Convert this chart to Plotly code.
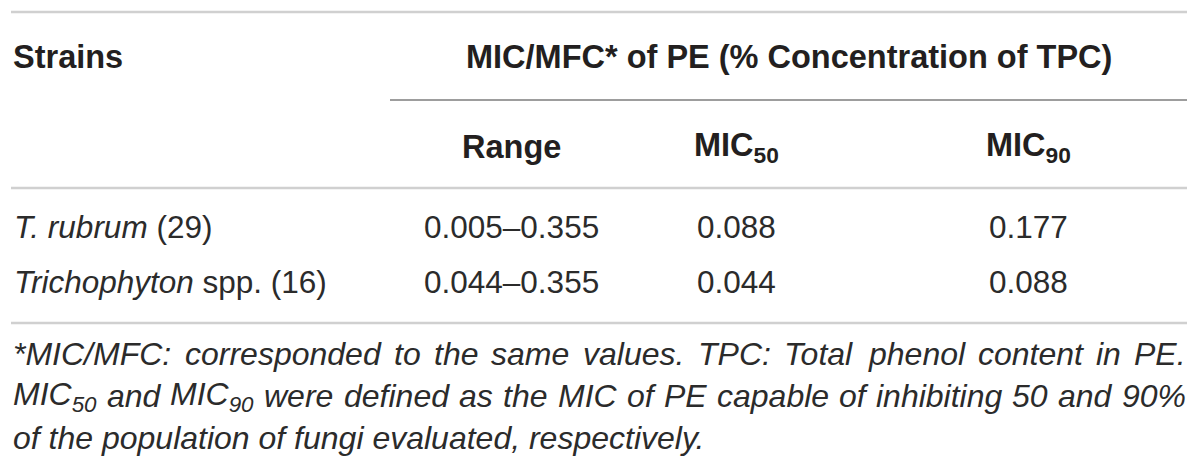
import plotly.graph_objects as go
import re

# ---------------- data ----------------
strain_names = ["<i>T. rubrum</i> (29)", "<i>Trichophyton</i> spp. (16)"]
range_values = ["0.005–0.355", "0.044–0.355"]
mic50_values = ["0.088", "0.044"]
mic90_values = ["0.177", "0.088"]

header_strains = "Strains"
header_group = "MIC/MFC* of PE (% Concentration of TPC)"
sub_headers = ["Range", "MIC<sub>50</sub>", "MIC<sub>90</sub>"]

footnote_lines = [
    "*MIC/MFC: corresponded to the same values. TPC: Total phenol content in PE.",
    "MIC<sub>50</sub> and MIC<sub>90</sub> were defined as the MIC of PE capable of inhibiting 50 and 90%",
    "of the population of fungi evaluated, respectively.",
]
footnote_justified = [True, True, False]

# ---------------- layout constants ----------------
W, H = 1200, 470
PAGE_MARGIN = 8  # default body margin of the html page
FONT = "Liberation Sans, Arial, sans-serif"
FS_HEAD = 32.5
FS_BODY = 31.5
FS_FOOT = 32
TXT_DARK = "#231f20"
TXT_BODY = "#2b2b2b"
LEFT, RIGHT = 11, 1187
TEXT_RIGHT = 1184
col_centers = [511, 736, 1028]
group_center = 789

y_top_rule = 12
y_head1 = 57
y_partial = 100
y_head2 = 147
y_head_rule = 188
y_rows = [227, 282]
y_bottom_rule = 323
y_foot = [354, 396, 438]

# Arial / Liberation Sans advance widths (per 1000 em)
AW = {' ': 278, '*': 389, '/': 278, ':': 278, '.': 278, ',': 278, '%': 889, '(': 333, ')': 333,
      '–': 556, '-': 333}
for d in "0123456789":
    AW[d] = 556
AW.update(dict(A=667, B=667, C=722, D=722, E=667, F=611, G=778, H=722, I=278, J=500, K=667,
               L=556, M=833, N=722, O=778, P=667, Q=778, R=722, S=667, T=611, U=722, V=667,
               W=944, X=667, Y=667, Z=611))
AW.update(dict(a=556, b=556, c=500, d=556, e=556, f=278, g=556, h=556, i=222, j=222, k=500,
               l=222, m=833, n=556, o=556, p=556, q=556, r=333, s=500, t=278, u=556, v=500,
               w=722, x=500, y=500, z=500))


def text_width(s, size):
    total = 0.0
    for p in re.split(r"(<sub>.*?</sub>)", s):
        inner = re.sub(r"<[^>]+>", "", p)
        w = sum(AW.get(ch, 556) for ch in inner)
        total += w * (0.7 if p.startswith("<sub>") else 1.0)
    return total * size / 1000.0


fig = go.Figure()
fig.add_trace(go.Scatter(x=[], y=[], mode="markers", showlegend=False, hoverinfo="skip"))


def add_text(x, y, text, xanchor="center", bold=False, italic=False, color=TXT_BODY, size=FS_BODY):
    t = text
    if bold:
        t = "<b>" + t + "</b>"
    if italic:
        t = "<i>" + t + "</i>"
    fig.add_annotation(x=x, y=y, xref="x", yref="y", text=t, showarrow=False,
                       xanchor=xanchor, yanchor="middle",
                       font=dict(family=FONT, size=size, color=color))


def add_rule(y, x0, x1, color, width):
    fig.add_shape(type="line", xref="x", yref="y", x0=x0, x1=x1, y0=y, y1=y,
                  line=dict(color=color, width=width))


# rules
add_rule(y_top_rule, LEFT, RIGHT, "#d0d0d0", 2.5)
add_rule(y_partial, 390, RIGHT, "#9d9d9d", 2)
add_rule(y_head_rule, LEFT, RIGHT, "#d0d0d0", 2.5)
add_rule(y_bottom_rule, LEFT, RIGHT, "#d0d0d0", 2.5)

# headers
add_text(LEFT, y_head1, header_strains, xanchor="left", bold=True, color=TXT_DARK, size=FS_HEAD)
add_text(group_center, y_head1, header_group, bold=True, color=TXT_DARK, size=FS_HEAD)
for cx, h in zip(col_centers, sub_headers):
    add_text(cx, y_head2, h, bold=True, color=TXT_DARK, size=FS_HEAD)

# body rows
for i, y in enumerate(y_rows):
    add_text(LEFT + 1, y, strain_names[i], xanchor="left")
    add_text(col_centers[0], y, range_values[i])
    add_text(col_centers[1], y, mic50_values[i])
    add_text(col_centers[2], y, mic90_values[i])

# footnote (justified lines placed word by word)
for line, y, just in zip(footnote_lines, y_foot, footnote_justified):
    if not just:
        add_text(LEFT, y, line, xanchor="left", italic=True, size=FS_FOOT)
        continue
    words = line.split(" ")
    widths = [text_width(w, FS_FOOT) for w in words]
    gap = (TEXT_RIGHT - LEFT - sum(widths)) / (len(words) - 1)
    x = LEFT
    for w, wd in zip(words, widths):
        add_text(x, y, w, xanchor="left", italic=True, size=FS_FOOT)
        x += wd + gap

# the html page has an 8px body margin: shrink the figure and shift the axis ranges
fig.update_layout(
    width=W - PAGE_MARGIN, height=H - PAGE_MARGIN,
    margin=dict(l=0, r=0, t=0, b=0),
    paper_bgcolor="white", plot_bgcolor="white",
    xaxis=dict(range=[PAGE_MARGIN, W], visible=False, fixedrange=True),
    yaxis=dict(range=[H, PAGE_MARGIN], visible=False, fixedrange=True),
    showlegend=False,
)

fig.write_html("out.html")
